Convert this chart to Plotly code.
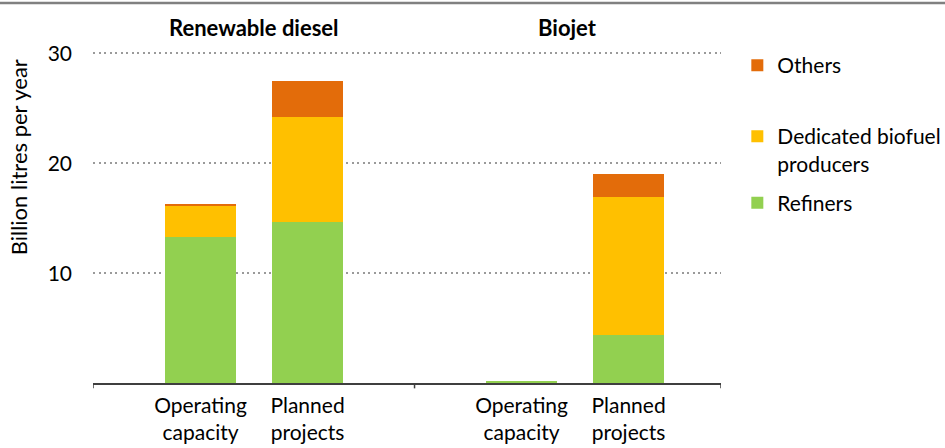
import plotly.graph_objects as go

# Capacity by producer type (billion litres per year)
fuels = ["Renewable diesel", "Biojet"]
stages = ["Operating<br>capacity", "Planned<br>projects"]
series_names = ["Refiners", "Dedicated biofuel<br>producers", "Others"]
series_colors = ["#92D050", "#FFC000", "#E36C0A"]

refiners = [13.3, 14.7, 0.2, 4.4]
dedicated = [2.9, 9.5, 0.0, 12.5]
others = [0.1, 3.3, 0.0, 2.1]

y_ticks = [10, 20, 30]

# Category slots: two bars per fuel with an empty slot between groups
slots = ["rd_op", "rd_pl", "gap", "bj_op", "bj_pl"]
bar_slots = ["rd_op", "rd_pl", "bj_op", "bj_pl"]
tick_text = stages + stages

FONT = "Lato"
fs = 21

# one legend box per series so each entry can sit at its own height
legend_ids = ["legend3", "legend2", "legend"]
legend_y = [0.598, 0.797, 1.009]

fig = go.Figure()
for name, color, vals, lid in zip(series_names, series_colors,
                                  [refiners, dedicated, others], legend_ids):
    fig.add_trace(go.Bar(
        x=bar_slots, y=vals, name=name,
        marker=dict(color=color, line=dict(width=0)),
        legend=lid, showlegend=True,
    ))

x_left, x_mid, x_right = -1.005, 2.0, 4.864

shapes = []
# group boundary ticks below the category axis
for xv in (x_left, x_mid, x_right):
    shapes.append(dict(type="line", xref="x", yref="paper", x0=xv, x1=xv,
                       y0=0, y1=-0.016, line=dict(color="#3f3f3f", width=1.5)))
# rule across the top of the figure
shapes.append(dict(type="line", xref="paper", yref="paper",
                   x0=-93 / 628, x1=852 / 628, y0=1 + 45 / 335.5, y1=1 + 45 / 335.5,
                   line=dict(color="#808080", width=2.5)))

title_font = dict(family=FONT, size=22, color="#000000")
annotations = [
    dict(text="<b>%s</b>" % fuels[0], x=(x_left + x_mid) / 2, y=1 + 20.5 / 335.5,
         xref="x", yref="paper", xanchor="center", yanchor="middle",
         showarrow=False, font=title_font),
    dict(text="<b>%s</b>" % fuels[1], x=(x_mid + x_right) / 2, y=1 + 20.5 / 335.5,
         xref="x", yref="paper", xanchor="center", yanchor="middle",
         showarrow=False, font=title_font),
    dict(text="Billion litres per year", x=-75 / 628, y=(383 - 157) / 335.5,
         xref="paper", yref="paper", xanchor="center", yanchor="middle",
         textangle=-90, showarrow=False, font=dict(family=FONT, size=22, color="#000000")),
]

legend_style = dict(
    x=1.026, xanchor="left", yanchor="top", valign="top",
    font=dict(family=FONT, size=21, color="#000000"),
    bgcolor="rgba(0,0,0,0)", visible=True,
)

fig.update_layout(
    width=945, height=448,
    margin=dict(l=93, r=224, t=47.5, b=65, autoexpand=False),
    plot_bgcolor="white", paper_bgcolor="white",
    barmode="stack", bargap=0.34, showlegend=True,
    font=dict(family=FONT, size=fs, color="#000000"),
    shapes=shapes, annotations=annotations,
    legend=dict(legend_style, y=legend_y[2]),
    legend2=dict(legend_style, y=legend_y[1]),
    legend3=dict(legend_style, y=legend_y[0]),
    xaxis=dict(
        type="category", categoryorder="array", categoryarray=slots,
        range=[x_left, x_right],
        tickvals=bar_slots, ticktext=tick_text,
        ticks="", showline=True, linecolor="#3f3f3f", linewidth=1.5,
        showgrid=False, zeroline=False, ticklabelstandoff=3,
        tickfont=dict(family=FONT, size=fs, color="#000000"),
    ),
    yaxis=dict(
        range=[0, 30.5], tickvals=y_ticks,
        showgrid=True, gridcolor="#9a9a9a", gridwidth=2, griddash="2px,3.5px",
        zeroline=False, showline=False, ticks="",
        ticklabelstandoff=20,
        tickfont=dict(family=FONT, size=fs, color="#000000"),
    ),
)

fig.write_html("out.html")
